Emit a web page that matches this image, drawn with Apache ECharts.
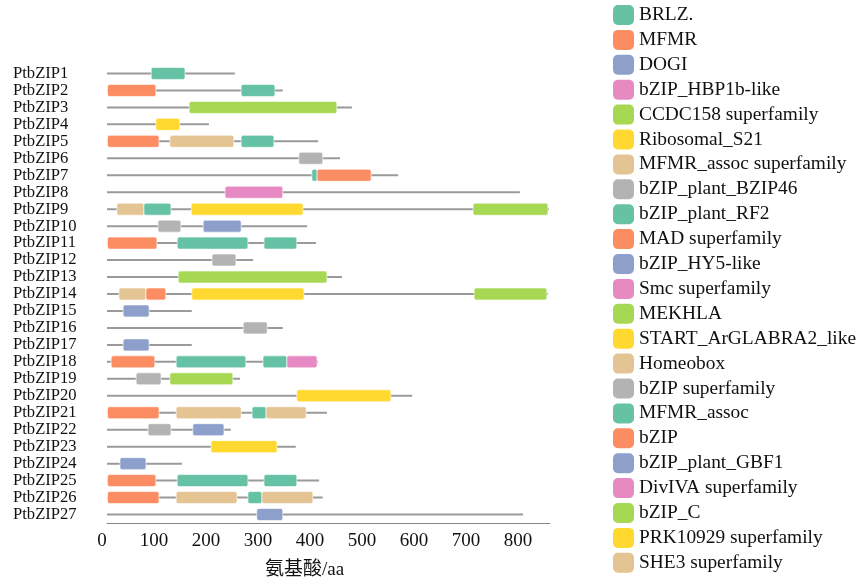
<!DOCTYPE html>
<html>
<head>
<meta charset="utf-8">
<script src="https://cdn.jsdelivr.net/npm/echarts@6/dist/echarts.min.js"></script>
<style>
  html, body { margin: 0; padding: 0; background: #fff; }
  #chart { width: 863px; height: 585px; }
</style>
</head>
<body>
<div id="chart"></div>
<script>
// proteins, top to bottom
const proteins = ['PtbZIP1', 'PtbZIP2', 'PtbZIP3', 'PtbZIP4', 'PtbZIP5', 'PtbZIP6', 'PtbZIP7', 'PtbZIP8', 'PtbZIP9',
  'PtbZIP10', 'PtbZIP11', 'PtbZIP12', 'PtbZIP13', 'PtbZIP14', 'PtbZIP15', 'PtbZIP16', 'PtbZIP17', 'PtbZIP18',
  'PtbZIP19', 'PtbZIP20', 'PtbZIP21', 'PtbZIP22', 'PtbZIP23', 'PtbZIP24', 'PtbZIP25', 'PtbZIP26', 'PtbZIP27'];
// protein length (aa)
const lengths = [246, 338, 471, 196, 406, 448, 560, 794, 850, 385, 402, 281, 452, 848, 163, 338, 163, 406,
  256, 587, 423, 238, 363, 144, 408, 415, 800];
// legend order
const domainNames = ['BRLZ.', 'MFMR', 'DOGI', 'bZIP_HBP1b-like', 'CCDC158 superfamily', 'Ribosomal_S21',
  'MFMR_assoc superfamily', 'bZIP_plant_BZIP46', 'bZIP_plant_RF2', 'MAD superfamily', 'bZIP_HY5-like',
  'Smc superfamily', 'MEKHLA', 'START_ArGLABRA2_like', 'Homeobox', 'bZIP superfamily', 'MFMR_assoc', 'bZIP',
  'bZIP_plant_GBF1', 'DivIVA superfamily', 'bZIP_C', 'PRK10929 superfamily', 'SHE3 superfamily'];
const palette = ['#66c2a5', '#fc8d62', '#8da0cb', '#e78ac3', '#a6d854', '#ffd92f', '#e5c494', '#b3b3b3'];
// [protein, start, end, domain]
const domains = [
  ['PtbZIP1', 85, 150, 'BRLZ.'],
  ['PtbZIP2', 1, 94, 'MFMR'], ['PtbZIP2', 258, 323, 'BRLZ.'],
  ['PtbZIP3', 158, 442, 'CCDC158 superfamily'],
  ['PtbZIP4', 94, 140, 'Ribosomal_S21'],
  ['PtbZIP5', 1, 100, 'MFMR'], ['PtbZIP5', 121, 244, 'MFMR_assoc superfamily'], ['PtbZIP5', 258, 321, 'BRLZ.'],
  ['PtbZIP6', 369, 415, 'bZIP_plant_BZIP46'],
  ['PtbZIP7', 394, 404, 'bZIP_plant_RF2'], ['PtbZIP7', 404, 508, 'MAD superfamily'],
  ['PtbZIP8', 227, 338, 'bZIP_HBP1b-like'],
  ['PtbZIP9', 19, 71, 'Homeobox'], ['PtbZIP9', 71, 123, 'MFMR_assoc'], ['PtbZIP9', 162, 377, 'START_ArGLABRA2_like'], ['PtbZIP9', 704, 848, 'MEKHLA'],
  ['PtbZIP10', 98, 142, 'bZIP superfamily'], ['PtbZIP10', 185, 258, 'DOGI'],
  ['PtbZIP11', 1, 96, 'MFMR'], ['PtbZIP11', 135, 271, 'MFMR_assoc'], ['PtbZIP11', 302, 365, 'BRLZ.'],
  ['PtbZIP12', 202, 248, 'bZIP_plant_BZIP46'],
  ['PtbZIP13', 137, 423, 'bZIP_C'],
  ['PtbZIP14', 23, 75, 'Homeobox'], ['PtbZIP14', 75, 113, 'bZIP'], ['PtbZIP14', 163, 379, 'START_ArGLABRA2_like'], ['PtbZIP14', 706, 846, 'MEKHLA'],
  ['PtbZIP15', 31, 81, 'bZIP_HY5-like'],
  ['PtbZIP16', 262, 308, 'bZIP superfamily'],
  ['PtbZIP17', 31, 81, 'bZIP_HY5-like'],
  ['PtbZIP18', 8, 92, 'MFMR'], ['PtbZIP18', 133, 267, 'MFMR_assoc'], ['PtbZIP18', 300, 346, 'BRLZ.'], ['PtbZIP18', 346, 404, 'Smc superfamily'],
  ['PtbZIP19', 56, 104, 'bZIP superfamily'], ['PtbZIP19', 121, 242, 'bZIP_C'],
  ['PtbZIP20', 365, 546, 'PRK10929 superfamily'],
  ['PtbZIP21', 1, 100, 'MFMR'], ['PtbZIP21', 133, 258, 'MFMR_assoc superfamily'], ['PtbZIP21', 279, 306, 'BRLZ.'], ['PtbZIP21', 306, 383, 'SHE3 superfamily'],
  ['PtbZIP22', 79, 123, 'bZIP superfamily'], ['PtbZIP22', 165, 225, 'bZIP_plant_GBF1'],
  ['PtbZIP23', 200, 327, 'PRK10929 superfamily'],
  ['PtbZIP24', 25, 75, 'bZIP_HY5-like'],
  ['PtbZIP25', 1, 94, 'MFMR'], ['PtbZIP25', 135, 271, 'MFMR_assoc'], ['PtbZIP25', 302, 365, 'BRLZ.'],
  ['PtbZIP26', 1, 100, 'bZIP'], ['PtbZIP26', 133, 250, 'MFMR_assoc superfamily'], ['PtbZIP26', 271, 298, 'bZIP_plant_RF2'], ['PtbZIP26', 298, 396, 'SHE3 superfamily'],
  ['PtbZIP27', 288, 338, 'bZIP_plant_GBF1']
];
const xTicks = [0, 100, 200, 300, 400, 500, 600, 700, 800];

const font = 'Liberation Serif, Times New Roman, Noto Sans CJK SC, serif';
const boxH = 12;

const backbone = {
  type: 'custom',
  name: 'backbone',
  z: 1,
  silent: true,
  encode: { x: 1, y: 0 },
  data: lengths.map((len, i) => [i, len]),
  renderItem: (params, api) => {
    const a = api.coord([0, api.value(0)]);
    const b = api.coord([api.value(1), api.value(0)]);
    return {
      type: 'line',
      shape: { x1: a[0], y1: a[1], x2: b[0], y2: b[1] },
      style: { stroke: '#9a9a9a', lineWidth: 2 }
    };
  }
};

const domainSeries = domainNames.map((name, k) => {
  const color = palette[k % palette.length];
  return {
    type: 'custom',
    name: name,
    z: 2,
    itemStyle: { color: color },
    encode: { x: [1, 2], y: 0 },
    data: domains.filter(d => d[3] === name).map(d => [proteins.indexOf(d[0]), d[1], d[2]]),
    renderItem: (params, api) => {
      const s = api.coord([api.value(1), api.value(0)]);
      const e = api.coord([api.value(2), api.value(0)]);
      return {
        type: 'rect',
        shape: { x: s[0], y: s[1] - boxH / 2, width: e[0] - s[0], height: boxH, r: 2 },
        style: { fill: color, stroke: 'rgba(255,255,255,0.6)', lineWidth: 1 }
      };
    }
  };
});

const chart = echarts.init(document.getElementById('chart'));
chart.setOption({
  animation: false,
  grid: { left: 107, top: 65, width: 443, height: 459 },
  legend: {
    orient: 'vertical',
    left: 608,
    top: 0,
    icon: 'roundRect',
    itemWidth: 21,
    itemHeight: 20,
    itemGap: 4.9,
    data: domainNames,
    textStyle: { fontFamily: font, fontSize: 19.4, color: '#111' }
  },
  xAxis: {
    type: 'value',
    min: 0,
    max: 852,
    interval: 100,
    name: '氨基酸/aa',
    nameLocation: 'middle',
    nameGap: 38,
    nameTextStyle: { fontFamily: font, fontSize: 19, color: '#111', padding: [0, 48, 0, 0] },
    axisLine: { show: true, lineStyle: { color: '#888', width: 1 } },
    axisTick: { show: false },
    splitLine: { show: false },
    axisLabel: {
      margin: 9,
      fontFamily: font,
      fontSize: 19,
      color: '#111',
      padding: [0, 10, 0, 0],
      formatter: v => xTicks.includes(v) ? String(v) : ''
    }
  },
  yAxis: {
    type: 'category',
    data: proteins,
    inverse: true,
    axisLine: { show: false },
    axisTick: { show: false },
    splitLine: { show: false },
    axisLabel: {
      interval: 0,
      align: 'left',
      margin: 94,
      fontFamily: font,
      fontSize: 16.6,
      color: '#111'
    }
  },
  series: [backbone].concat(domainSeries)
});
</script>
</body>
</html>
